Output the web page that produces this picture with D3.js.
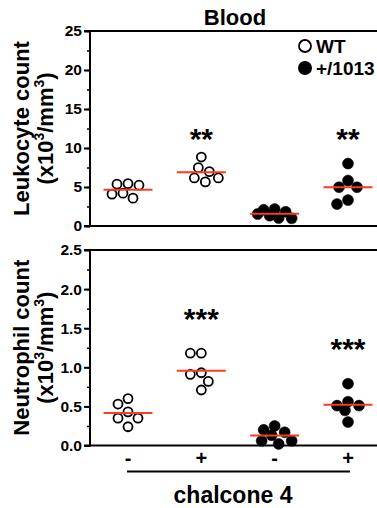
<!DOCTYPE html>
<html>
<head>
<meta charset="utf-8">
<style>
  body { margin: 0; background: #fff; }
  text { font-family: "Liberation Sans", Arial, sans-serif; font-weight: bold; fill: #000; }
</style>
</head>
<body>
<script src="https://d3js.org/d3.v7.min.js"></script>
<script>
// groups, left to right
var groups = ["WT -", "WT +", "+/1013 -", "+/1013 +"];
var treatLabels = ["-", "+", "-", "+"];
var genotype = ["WT", "WT", "+/1013", "+/1013"];

// leukocyte count (x10^3/mm^3)
var leukocyte = [
  [4.21, 5.36, 3.57, 5.44, 5.23, 4.08],
  [8.84, 6.16, 7.48, 5.65, 6.97, 6.16],
  [1.32, 1.83, 2.08, 2.17, 0.98, 1.53, 1.02],
  [8.0, 4.97, 5.83, 4.97, 2.81, 3.32]
];
// neutrophil count (x10^3/mm^3)
var neutrophil = [
  [0.60, 0.35, 0.24, 0.53, 0.43, 0.35],
  [0.93, 1.18, 1.18, 0.91, 0.71, 0.82],
  [0.06, 0.17, 0.25, 0.20, 0.02, 0.13, 0.06],
  [0.79, 0.51, 0.56, 0.51, 0.30, 0.45]
];
var leukoStars = ["", "**", "", "**"];
var leukoStarAt = [0, 11.9, 0, 11.9];
var neutroStars = ["", "***", "", "***"];
var neutroStarAt = [0, 1.69, 0, 1.31];

var W = 377, H = 508;
var left = 90, right = 377;

var svg = d3.select("body").append("svg")
    .attr("width", W).attr("height", H);

var x = d3.scalePoint().domain(groups).range([128, 348]);

var panels = [
  { data: leukocyte, top: 31, bottom: 226, max: 25, step: 5, minor: 2.5, fmt: d3.format("d"),
    title: "Leukocyte count", stars: leukoStars, starAt: leukoStarAt },
  { data: neutrophil, top: 250, bottom: 445.5, max: 2.5, step: 0.5, minor: 0.25, fmt: d3.format(".1f"),
    title: "Neutrophil count", stars: neutroStars, starAt: neutroStarAt }
];

// simple beeswarm: spread overlapping points sideways, but keep within +-maxOff
function swarm(vals, y, cx, dist, maxOff) {
  var pts = vals.map(function(v) { return { v: v, y: y(v) }; })
    .sort(function(a, b) { return a.y - b.y; });
  var placed = [];
  pts.forEach(function(p) {
    var off = null, bestS = 0, bestD = -1;
    for (var k = 0; k <= maxOff && off === null; k++) {
      var cands = k === 0 ? [0] : [-k, k];
      for (var c = 0; c < cands.length; c++) {
        var s = cands[c];
        var dmin = d3.min(placed, function(q) {
          return Math.sqrt((q.x - s) * (q.x - s) + (q.y - p.y) * (q.y - p.y));
        });
        if (dmin === undefined || dmin >= dist) { off = s; break; }
        if (dmin > bestD) { bestD = dmin; bestS = s; }
      }
    }
    if (off === null) off = bestS;
    p.x = cx + off;
    placed.push({ x: off, y: p.y });
  });
  return pts;
}

panels.forEach(function(pn) {
  var y = d3.scaleLinear().domain([0, pn.max]).range([pn.bottom, pn.top]);
  var g = svg.append("g");

  // minor ticks
  g.append("g")
    .attr("transform", "translate(" + left + ",0)")
    .call(d3.axisLeft(y).tickValues(d3.range(0, pn.max + 1e-9, pn.minor)).tickSize(3).tickFormat(""))
    .call(function(a) { a.select(".domain").remove(); a.selectAll("line").attr("stroke-width", 1.5); });

  // major axis
  g.append("g")
    .attr("transform", "translate(" + left + ",0)")
    .call(d3.axisLeft(y).tickValues(d3.range(0, pn.max + 1e-9, pn.step)).tickSize(6).tickPadding(2).tickFormat(pn.fmt))
    .call(function(a) {
      a.select(".domain").attr("stroke-width", 2).attr("d", "M-6," + pn.top + "H0V" + pn.bottom + "H-6");
      a.selectAll("line").attr("stroke-width", 2);
      a.selectAll("text").style("font-size", "15.5px").style("font-family", "'Liberation Sans', Arial, sans-serif")
        .style("font-weight", "bold").attr("fill", "#000");
    });

  // frame top and baseline
  g.append("line").attr("x1", left).attr("x2", right).attr("y1", pn.top).attr("y2", pn.top)
    .attr("stroke", "#000").attr("stroke-width", 2);
  g.append("line").attr("x1", left).attr("x2", right).attr("y1", pn.bottom).attr("y2", pn.bottom)
    .attr("stroke", "#000").attr("stroke-width", 2);

  // y title
  var cy = (pn.top + pn.bottom) / 2;
  g.append("text").attr("transform", "translate(29," + cy + ") rotate(-90)")
    .attr("text-anchor", "middle").style("font-size", "22px").text(pn.title);
  var t2 = g.append("text").attr("transform", "translate(53," + cy + ") rotate(-90)")
    .attr("text-anchor", "middle").style("font-size", "22px");
  t2.append("tspan").text("(x10");
  t2.append("tspan").attr("dy", -9).style("font-size", "14px").text("3");
  t2.append("tspan").attr("dy", 9).text("/mm");
  t2.append("tspan").attr("dy", -9).style("font-size", "14px").text("3");
  t2.append("tspan").attr("dy", 9).text(")");

  // points
  pn.data.forEach(function(vals, i) {
    var cx = x(groups[i]);
    var open = genotype[i] === "WT";
    var pts = swarm(vals, y, cx, 11, 17);
    g.selectAll(null).data(pts).enter().append("circle")
      .attr("cx", function(d) { return d.x; })
      .attr("cy", function(d) { return d.y; })
      .attr("r", open ? 4.5 : 5.5)
      .attr("fill", open ? "#fff" : "#000")
      .attr("stroke", "#000")
      .attr("stroke-width", open ? 1.8 : 0.5);
    var m = d3.mean(vals);
    g.append("line").attr("x1", cx - 24.5).attr("x2", cx + 24.5)
      .attr("y1", y(m)).attr("y2", y(m))
      .attr("stroke", "#ff3b1d").attr("stroke-width", 2);
    if (pn.stars[i]) {
      g.append("text").attr("x", cx).attr("y", y(pn.starAt[i]) + 16)
        .attr("text-anchor", "middle").style("font-size", "30px").text(pn.stars[i]);
    }
  });
});

// title
svg.append("text").attr("x", 235).attr("y", 25).attr("text-anchor", "middle")
  .style("font-size", "22px").text("Blood");

// legend
var legend = svg.append("g");
legend.append("circle").attr("cx", 305).attr("cy", 46).attr("r", 6)
  .attr("fill", "#fff").attr("stroke", "#000").attr("stroke-width", 1.8);
legend.append("text").attr("x", 316).attr("y", 53).style("font-size", "19px").text("WT");
legend.append("circle").attr("cx", 305).attr("cy", 68).attr("r", 7).attr("fill", "#000");
legend.append("text").attr("x", 316).attr("y", 75).style("font-size", "19px").text("+/1013");

// x labels
svg.selectAll(".tl").data(groups).enter().append("text")
  .attr("x", function(d) { return x(d); })
  .attr("y", 465).attr("text-anchor", "middle").style("font-size", "20px")
  .text(function(d, i) { return treatLabels[i]; });
svg.append("line").attr("x1", 127).attr("x2", 350).attr("y1", 471.5).attr("y2", 471.5)
  .attr("stroke", "#000").attr("stroke-width", 2);
svg.append("text").attr("x", 233).attr("y", 503).attr("text-anchor", "middle")
  .style("font-size", "23px").text("chalcone 4");
</script>
</body>
</html>
